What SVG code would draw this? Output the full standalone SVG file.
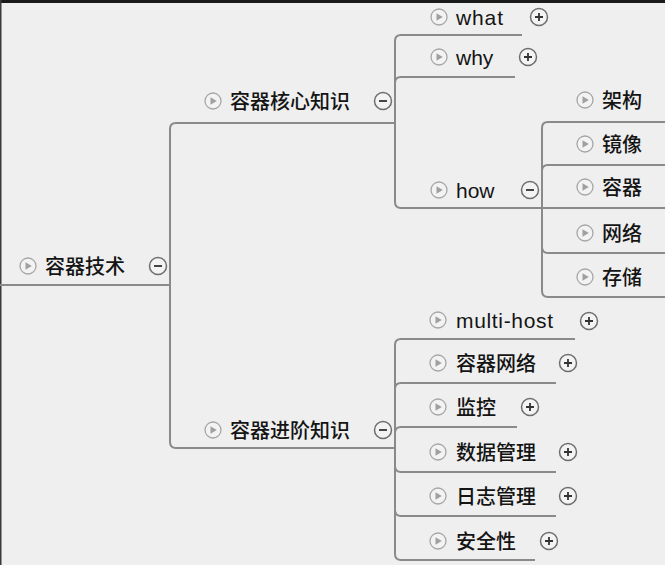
<svg xmlns="http://www.w3.org/2000/svg" xmlns:xlink="http://www.w3.org/1999/xlink" width="665" height="565" viewBox="0 0 665 565">
<style>
.t{font-family:"Liberation Sans","Noto Sans CJK SC",sans-serif;fill:#141414}
.cjk{font-size:20px;font-weight:500;font-family:"Noto Sans CJK SC","Liberation Sans",sans-serif}
.lat{font-size:21px}
.c{fill:none;stroke:#8a8a8a;stroke-width:2}
</style>
<defs>
<g id="ic"><circle r="8" fill="#f3f3f3" stroke="#a6a6a6" stroke-width="1.3"/><path d="M-2.5,-3.8 L3.8,0 L-2.5,3.8 Z" fill="#a0a0a0"/></g>
<g id="mi"><circle r="8.5" fill="#f3f3f3" stroke="#6e6e6e" stroke-width="1.5"/><path d="M-4,0 H4" stroke="#333" stroke-width="1.8"/></g>
<g id="pl"><circle r="8.5" fill="#f3f3f3" stroke="#6e6e6e" stroke-width="1.5"/><path d="M-4,0 H4 M0,-4 V4" stroke="#333" stroke-width="1.8"/></g>
</defs>
<rect width="665" height="565" fill="#efefef"/>
<rect width="665" height="3" fill="#1a1a1a"/>
<rect width="1.5" height="565" fill="#3a3a3a"/>
<g id="connectors">
<path class="c" d="M0,285 H170"/>
<path class="c" d="M395,123 H176 Q170,123 170,129 V442 Q170,448 176,448 H395"/>
<path class="c" d="M522,35 H401 Q395,35 395,41 V202 Q395,208 401,208 H665"/>
<path class="c" d="M515,77 H401 Q395,77 395,83"/>
<path class="c" d="M665,122 H548 Q542,122 542,128 V291 Q542,297 548,297 H665"/>
<path class="c" d="M665,165 H548 Q542,165 542,171"/>
<path class="c" d="M542,247 Q542,253 548,253 H665"/>
<path class="c" d="M575,339 H401 Q395,339 395,345 V554 Q395,560 401,560 H535"/>
<path class="c" d="M556,383 H401 Q395,383 395,389"/>
<path class="c" d="M517,427 H401 Q395,427 395,433"/>
<path class="c" d="M395,466 Q395,472 401,472 H556"/>
<path class="c" d="M395,510 Q395,516 401,516 H556"/>
</g>
<g id="root"><use xlink:href="#ic" x="28" y="266"/><text class="t cjk" x="45" y="273.5">容器技术</text><use xlink:href="#mi" x="158" y="266"/></g>
<g id="core"><use xlink:href="#ic" x="213" y="101"/><text class="t cjk" x="230" y="108.5">容器核心知识</text><use xlink:href="#mi" x="383" y="101"/></g>
<g id="what"><use xlink:href="#ic" x="439" y="17"/><text class="t lat" x="456" y="25" textLength="47">what</text><use xlink:href="#pl" x="539" y="17"/></g>
<g id="why"><use xlink:href="#ic" x="439" y="57"/><text class="t lat" x="456" y="65">why</text><use xlink:href="#pl" x="528" y="57"/></g>
<g id="how"><use xlink:href="#ic" x="439" y="190"/><text class="t lat" x="456" y="198">how</text><use xlink:href="#mi" x="530" y="190"/></g>
<g id="arch"><use xlink:href="#ic" x="585" y="100"/><text class="t cjk" x="602" y="107.5">架构</text></g>
<g id="image"><use xlink:href="#ic" x="585" y="144"/><text class="t cjk" x="602" y="151.5">镜像</text></g>
<g id="container"><use xlink:href="#ic" x="585" y="187"/><text class="t cjk" x="602" y="194.5">容器</text></g>
<g id="network"><use xlink:href="#ic" x="585" y="233"/><text class="t cjk" x="602" y="240.5">网络</text></g>
<g id="storage"><use xlink:href="#ic" x="585" y="277"/><text class="t cjk" x="602" y="284.5">存储</text></g>
<g id="advanced"><use xlink:href="#ic" x="213" y="430"/><text class="t cjk" x="230" y="437.5">容器进阶知识</text><use xlink:href="#mi" x="383" y="430"/></g>
<g id="multihost"><use xlink:href="#ic" x="438" y="320"/><text class="t lat" x="456" y="328" textLength="97">multi-host</text><use xlink:href="#pl" x="589" y="321"/></g>
<g id="cnet"><use xlink:href="#ic" x="438" y="363"/><text class="t cjk" x="456" y="370.5">容器网络</text><use xlink:href="#pl" x="568" y="363"/></g>
<g id="monitor"><use xlink:href="#ic" x="438" y="407"/><text class="t cjk" x="456" y="414.5">监控</text><use xlink:href="#pl" x="530" y="407"/></g>
<g id="data"><use xlink:href="#ic" x="438" y="452"/><text class="t cjk" x="456" y="459.5">数据管理</text><use xlink:href="#pl" x="568" y="452"/></g>
<g id="log"><use xlink:href="#ic" x="438" y="496"/><text class="t cjk" x="456" y="503.5">日志管理</text><use xlink:href="#pl" x="568" y="496"/></g>
<g id="security"><use xlink:href="#ic" x="438" y="541"/><text class="t cjk" x="456" y="548.5">安全性</text><use xlink:href="#pl" x="549" y="541"/></g>
</svg>
